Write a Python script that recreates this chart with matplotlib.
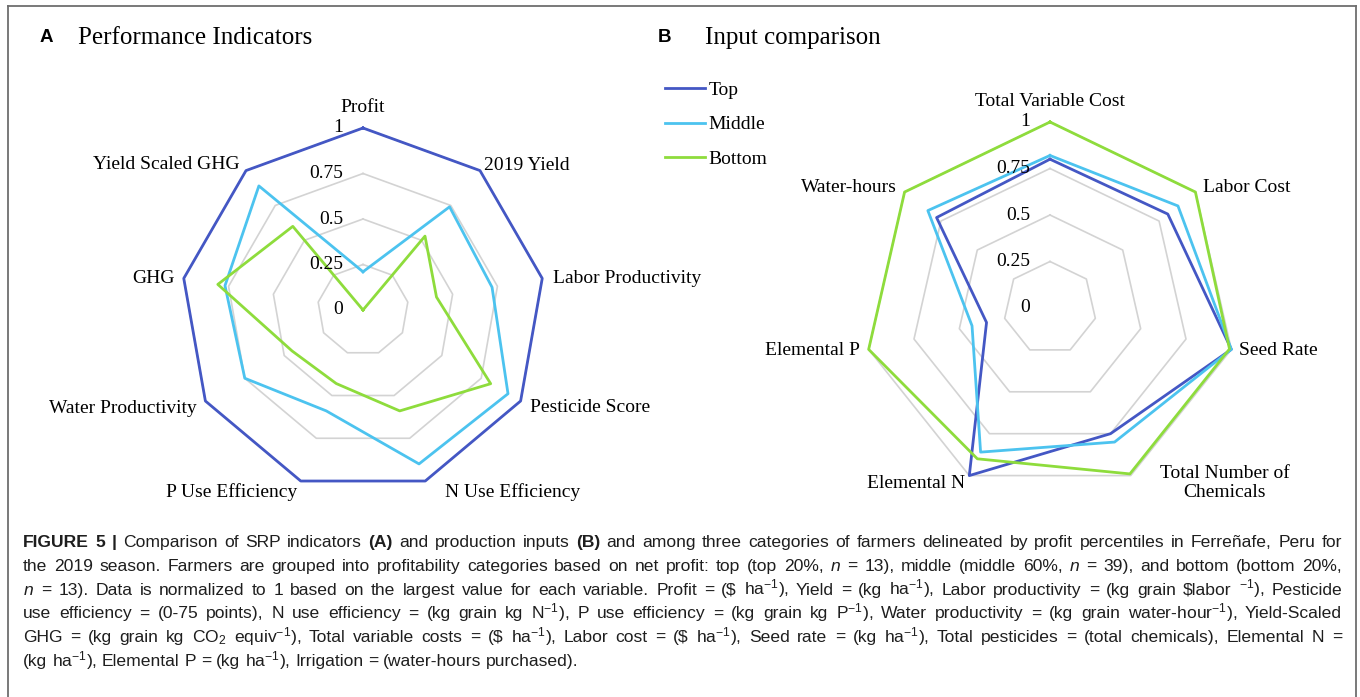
import numpy as np
import matplotlib
matplotlib.use('Agg')
import matplotlib.pyplot as plt
from matplotlib.lines import Line2D

W, H, DPI = 1360, 697, 100

# ---- data -------------------------------------------------------------
perf_labels = ['Profit', '2019 Yield', 'Labor Productivity', 'Pesticide Score',
               'N Use Efficiency', 'P Use Efficiency', 'Water Productivity',
               'GHG', 'Yield Scaled GHG']
perf_top = [1.0, 1.0, 1.0, 1.0, 1.0, 1.0, 1.0, 1.0, 1.0]
perf_middle = [0.21, 0.74, 0.72, 0.92, 0.90, 0.59, 0.75, 0.77, 0.89]
perf_bottom = [0.0, 0.53, 0.41, 0.81, 0.59, 0.43, 0.45, 0.81, 0.60]

input_labels = ['Total Variable Cost', 'Labor Cost', 'Seed Rate',
                'Total Number of\nChemicals', 'Elemental N', 'Elemental P',
                'Water-hours']
input_top = [0.80, 0.81, 1.0, 0.75, 1.0, 0.35, 0.78]
input_middle = [0.82, 0.88, 1.0, 0.80, 0.86, 0.43, 0.84]
input_bottom = [1.0, 1.0, 0.99, 0.99, 0.90, 1.0, 1.0]

series_names = ['Top', 'Middle', 'Bottom']
ring_levels = [0.25, 0.5, 0.75, 1.0]
tick_values = [0, 0.25, 0.5, 0.75, 1]
tick_labels = ['0', '0.25', '0.5', '0.75', '1']

colors = ['#4457C4', '#4CC3EF', '#8EDC3C']
grid_color = '#D3D3D3'

caption_lines = [
    "*FIGURE *5 *| Comparison of SRP indicators *(A) and production inputs *(B) and among three categories of farmers delineated by profit percentiles in Ferreñafe, Peru for",
    "the 2019 season. Farmers are grouped into profitability categories based on net profit: top (top 20%, $n$ = 13), middle (middle 60%, $n$ = 39), and bottom (bottom 20%,",
    "$n$ = 13). Data is normalized to 1 based on the largest value for each variable. Profit = (\\$ ha$^{-1}$), Yield = (kg ha$^{-1}$), Labor productivity = (kg grain \\$labor $^{-1}$), Pesticide",
    "use efficiency = (0-75 points), N use efficiency = (kg grain kg N$^{-1}$), P use efficiency = (kg grain kg P$^{-1}$), Water productivity = (kg grain water-hour$^{-1}$), Yield-Scaled",
    "GHG = (kg grain kg CO$_2$ equiv$^{-1}$), Total variable costs = (\\$ ha$^{-1}$), Labor cost = (\\$ ha$^{-1}$), Seed rate = (kg ha$^{-1}$), Total pesticides = (total chemicals), Elemental N =",
    "(kg ha$^{-1}$), Elemental P = (kg ha$^{-1}$), Irrigation = (water-hours purchased).",
]

plt.rcParams['font.family'] = ['Liberation Serif', 'DejaVu Serif']
plt.rcParams['mathtext.fontset'] = 'custom'
plt.rcParams['mathtext.rm'] = 'Liberation Sans'
plt.rcParams['mathtext.it'] = 'Liberation Sans:italic'
plt.rcParams['mathtext.bf'] = 'Liberation Sans:bold'

PT = 72.0 / DPI  # pixels -> points
LABEL_FS = 14


def radar(ax, labels, series, label_offsets):
    n = len(labels)
    theta = np.arange(n) * 2 * np.pi / n
    closed = np.append(theta, theta[0])
    ax.set_theta_offset(np.pi / 2)
    ax.set_theta_direction(-1)
    ax.set_ylim(0, 1)
    ax.set_axis_off()
    for lv in ring_levels:
        ax.plot(closed, [lv] * (n + 1), color=grid_color, lw=1.2, zorder=1,
                clip_on=False)
    lines = []
    for vals, c, name in zip(series, colors, series_names):
        ln, = ax.plot(closed, list(vals) + [vals[0]], color=c, lw=2.0,
                      zorder=3, clip_on=False, label=name)
        lines.append(ln)
    for v, t in zip(tick_values, tick_labels):
        ax.annotate(t, xy=(0, v), xytext=(-20 * PT, 0),
                    textcoords='offset points', ha='right', va='center',
                    fontsize=LABEL_FS, annotation_clip=False)
    for th, lab, (dx, dy, ha) in zip(theta, labels, label_offsets):
        ax.annotate(lab, xy=(th, 1.0), xytext=(dx * PT, dy * PT),
                    textcoords='offset points', ha=ha, va='center',
                    multialignment='center', fontsize=LABEL_FS,
                    annotation_clip=False, linespacing=1.15)
    return lines


fig = plt.figure(figsize=(W / DPI, H / DPI), dpi=DPI)
fig.patch.set_facecolor('white')


def polar_axes(cx, cy, r):
    return fig.add_axes([(cx - r) / W, (H - cy - r) / H, 2 * r / W, 2 * r / H],
                        projection='polar')


axA = polar_axes(363, 310, 182)
perf_offsets = [(0, 21, 'center'), (4, 5, 'left'), (11, 0, 'left'),
                (9, -7, 'left'), (20, -11, 'left'), (-4, -11, 'right'),
                (-9, -7, 'right'), (-9, 0, 'right'), (-6, 6, 'right')]
radar(axA, perf_labels, [perf_top, perf_middle, perf_bottom], perf_offsets)

axB = polar_axes(1050, 308, 186)
input_offsets = [(0, 20, 'center'), (8, 5, 'left'), (8, -1, 'left'),
                 (29, -7, 'left'), (-4, -8, 'right'), (-9, -1, 'right'),
                 (-8, 5, 'right')]
linesB = radar(axB, input_labels, [input_top, input_middle, input_bottom],
               input_offsets)

fig.legend(handles=linesB, labels=series_names, loc='upper left',
           bbox_to_anchor=(665 / W, 1 - 81 / H), frameon=False,
           borderpad=0, borderaxespad=0, handlelength=2.05,
           handletextpad=0.2, labelspacing=0.88, fontsize=LABEL_FS)

# panel titles
for letter, x_letter, x_title, title in [('A', 40, 78, 'Performance Indicators'),
                                         ('B', 658, 705, 'Input comparison')]:
    fig.text(x_letter / W, 1 - 37 / H, letter, family='Liberation Sans',
             fontweight='bold', fontsize=13.5, va='center', ha='left')
    fig.text(x_title / W, 1 - 38 / H, title, fontsize=18, va='center',
             ha='left')

# frame
frame = dict(color='#6E6E6E', lw=1.3, transform=fig.transFigure)
fig.add_artist(Line2D([8 / W, 1356 / W], [1 - 6 / H, 1 - 6 / H], **frame))
fig.add_artist(Line2D([8 / W, 8 / W], [1 - 6 / H, 0], **frame))
fig.add_artist(Line2D([1356 / W, 1356 / W], [1 - 6 / H, 0], **frame))

# caption, justified
CAP_FS = 12.6
renderer = fig.canvas.get_renderer()
x0, x1 = 23, 1342
y_first, y_step = 547, 23.8
space_px = 0.278 * CAP_FS / PT
for i, line in enumerate(caption_lines):
    y = 1 - (y_first + i * y_step) / H
    words = []
    for tok in line.split(' '):
        bold = tok.startswith('*')
        tok = tok.lstrip('*')
        t = fig.text(0, y, tok, family='Liberation Sans', fontsize=CAP_FS,
                     fontweight='bold' if bold else 'normal', color='#1E1E1E',
                     va='baseline', ha='left')
        words.append((t, t.get_window_extent(renderer).width))
    total = sum(w for _, w in words)
    if i < len(caption_lines) - 1 and len(words) > 1:
        gap = (x1 - x0 - total) / (len(words) - 1)
    else:
        gap = space_px
    x = x0
    for t, w in words:
        t.set_x(x / W)
        x += w + gap

fig.savefig('out.png', dpi=DPI, facecolor='white')
